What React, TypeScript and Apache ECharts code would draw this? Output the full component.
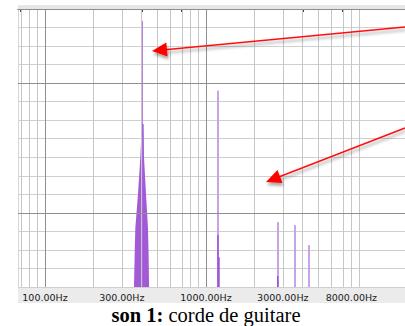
import React, { useEffect, useRef } from 'react';
import * as echarts from 'echarts';

// Frequencies (Hz) of the vertical grid lines
const gridFreqs = [70, 80, 90, 200, 300, 400, 500, 600, 700, 800, 900, 2000, 3000, 4000, 5000, 6000, 7000, 8000, 9000];
const majorFreqs = [100, 1000];
const tickFreqs = [70, 80, 90, 100, 200, 300, 400, 500, 600, 700, 800, 900, 1000, 2000, 3000, 4000, 5000, 6000, 7000, 8000, 9000];
const labelFreqs = [100, 300, 1000, 3000, 8000];
// Level (dB) of the darker horizontal lines
const majorDb = [0, -20, -55];

// Main peak (fundamental, ~400 Hz) envelope
const mainPeakFreqs = [350, 357, 361, 364, 378, 391, 399, 410, 412, 424, 436, 440, 443, 450];
const mainPeakDb = [-80, -75, -65, -59, -50, -40, -31, -31, -40, -50, -59, -66, -75, -80];
const mainSpikeFreqs = [401];
const mainSpikeDb = [-3.2];

// Harmonic spikes
const harmonicFreqs = [1187, 2800, 3570, 4360];
const harmonicDb = [-22, -57.5, -58.3, -63.7];
// Lower, darker parts of harmonic spikes
const lowerFreqs = [1187, 1204, 2790];
const lowerDb = [-61, -67, -72];

const Y_MIN = -75;
const Y_MAX = 0;
const X_MIN = 2 - 27 / 161;
const X_MAX = X_MIN + 387 / 161;

const lg = (f: number) => Math.log10(f);

function arrow(tail: [number, number], tip: [number, number]) {
  const dx = tip[0] - tail[0];
  const dy = tip[1] - tail[1];
  const len = Math.sqrt(dx * dx + dy * dy);
  const ux = dx / len;
  const uy = dy / len;
  const hl = 15;
  const hw = 7;
  const bx = tip[0] - ux * hl;
  const by = tip[1] - uy * hl;
  const px = uy;
  const py = -ux;
  const shadow = { shadowBlur: 3, shadowOffsetY: 3, shadowOffsetX: 1, shadowColor: 'rgba(0,0,0,0.35)' };
  return [
    {
      type: 'line',
      shape: { x1: tail[0], y1: tail[1], x2: bx + ux * 2, y2: by + uy * 2 },
      style: { stroke: '#ff1010', lineWidth: 1.5, ...shadow },
      z: 100,
    },
    {
      type: 'polygon',
      shape: {
        points: [
          [tip[0], tip[1]],
          [bx + px * hw, by + py * hw],
          [bx - px * hw, by - py * hw],
        ],
      },
      style: { fill: '#ff0000', ...shadow },
      z: 100,
    },
  ];
}

function spikeSeries(freqs: number[], dbs: number[], color: string, width: number, z: number) {
  return freqs.map((f, i) => ({
    type: 'line',
    data: [
      [lg(f), Y_MIN],
      [lg(f), dbs[i]],
    ],
    symbol: 'none',
    lineStyle: { color, width },
    z,
    silent: true,
  }));
}

export default function App() {
  const ref = useRef<HTMLDivElement>(null);
  useEffect(() => {
    document.body.style.margin = '0';
    if (!ref.current) return;
    const chart = echarts.init(ref.current, null, { renderer: 'svg' });
    const markData: any[] = [
      ...gridFreqs.map((f) => ({ xAxis: lg(f), lineStyle: { color: '#c6c6c6', width: 1, type: 'solid' } })),
      ...majorFreqs.map((f) => ({ xAxis: lg(f), lineStyle: { color: '#8e8e8e', width: 1, type: 'solid' } })),
      ...majorDb.map((d) => ({ yAxis: d, lineStyle: { color: '#8e8e8e', width: 1, type: 'solid' } })),
    ];
    const option: any = {
      animation: false,
      grid: { left: 18, right: 0, top: 9, bottom: 39, outerBoundsMode: 'none', containLabel: false },
      xAxis: {
        type: 'value',
        min: X_MIN,
        max: X_MAX,
        axisLine: { show: true, lineStyle: { color: '#111', width: 1 } },
        axisTick: {
          show: true,
          customValues: tickFreqs.map(lg),
          length: 3,
          lineStyle: { color: '#444' },
        },
        axisLabel: {
          show: true,
          customValues: labelFreqs.map(lg),
          formatter: (v: number) => Math.pow(10, v).toFixed(2) + 'Hz',
          fontFamily: 'DejaVu Sans',
          fontSize: 9.5,
          color: '#1a1a1a',
          margin: 5,
        },
        splitLine: { show: false },
      },
      yAxis: {
        type: 'value',
        min: Y_MIN,
        max: Y_MAX,
        interval: 5,
        axisLine: { show: true, lineStyle: { color: '#d6d6d6' } },
        axisTick: { show: false },
        axisLabel: { show: false },
        splitLine: { show: true, lineStyle: { color: '#cfcfcf', width: 1 } },
      },
      graphic: [
        { type: 'rect', shape: { x: 18, y: 288, width: 387, height: 15 }, style: { fill: '#ebebeb' }, z: -10 },
        { type: 'rect', shape: { x: 18, y: 5, width: 387, height: 4 }, style: { fill: '#e6e6e6' }, z: -10 },
        ...arrow([405, 27], [152, 51]),
        ...arrow([405, 128], [266, 182]),
        {
          type: 'text',
          x: 206,
          y: 314.5,
          style: {
            text: '{b|son 1:} corde de guitare',
            rich: { b: { fontWeight: 'bold', fontFamily: 'Liberation Serif', fontSize: 20.5, fill: '#000' } },
            fontFamily: 'Liberation Serif',
            fontSize: 20.5,
            fill: '#000',
            align: 'center',
            verticalAlign: 'middle',
            textAlign: 'center',
            textVerticalAlign: 'middle',
          },
          z: 100,
        },
      ],
      series: [
        {
          type: 'line',
          data: [],
          z: 1,
          silent: true,
          markLine: { silent: true, symbol: ['none', 'none'], label: { show: false }, animation: false, data: markData },
        },
        {
          type: 'line',
          data: mainPeakFreqs.map((f, i) => [lg(f), mainPeakDb[i]]),
          symbol: 'none',
          lineStyle: { width: 0 },
          areaStyle: { color: '#a25ad6', opacity: 1, origin: 'start' },
          z: 3,
          silent: true,
        },
        ...spikeSeries(mainSpikeFreqs, mainSpikeDb, '#a96bdb', 1.5, 3),
        ...spikeSeries(harmonicFreqs, harmonicDb, '#c9a3ea', 2, 3),
        ...spikeSeries(lowerFreqs, lowerDb, '#9a52d4', 1.5, 4),
      ],
    };
    chart.setOption(option);
    return () => chart.dispose();
  }, []);
  return <div ref={ref} style={{ width: 405, height: 326 }} />;
}
